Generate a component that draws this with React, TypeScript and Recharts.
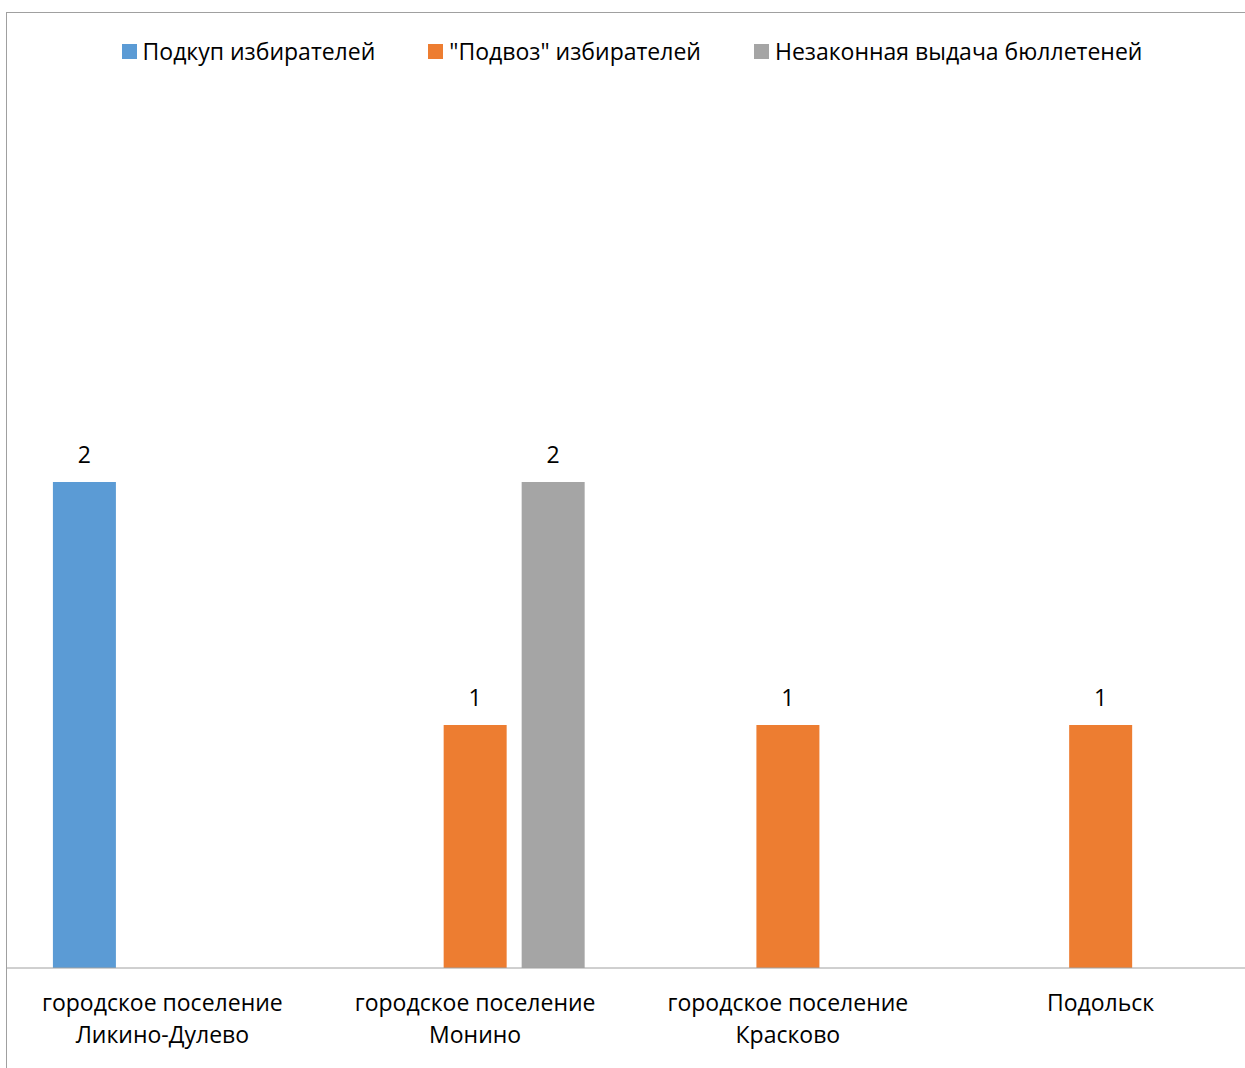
import React from "react";
import { BarChart, Bar, XAxis, YAxis, Legend, LabelList } from "recharts";

const categories: string[] = [
  "городское поселение\nЛикино-Дулево",
  "городское поселение\nМонино",
  "городское поселение\nКрасково",
  "Подольск",
];
const bribery: (number | null)[] = [2, null, null, null];
const transport: (number | null)[] = [null, 1, 1, 1];
const ballots: (number | null)[] = [null, 2, null, null];

const seriesNames = ["Подкуп избирателей", "\"Подвоз\" избирателей", "Незаконная выдача бюллетеней"];
const colors = ["#5B9BD5", "#ED7D31", "#A5A5A5"];

const data = categories.map((c, i) => ({
  name: c,
  bribery: bribery[i],
  transport: transport[i],
  ballots: ballots[i],
}));

const FONT = "'Open Sans', 'DejaVu Sans', sans-serif";
const FS = 23;

const Tick = (props: any) => {
  const { x, y, payload } = props;
  const lines = String(payload.value).split("\n");
  return (
    <text x={x} y={y} textAnchor="middle" fill="#000" fontSize={FS} fontFamily={FONT}>
      {lines.map((l: string, i: number) => (
        <tspan key={i} x={x} dy={i === 0 ? 35 : 32}>
          {l}
        </tspan>
      ))}
    </text>
  );
};

const LegendContent = () => (
  <div
    style={{
      display: "flex",
      justifyContent: "center",
      alignItems: "center",
      fontFamily: FONT,
      fontSize: FS,
      color: "#000",
      width: "100%",
    }}
  >
    {seriesNames.map((n, i) => (
      <div key={i} style={{ display: "flex", alignItems: "center", marginLeft: i === 0 ? 0 : 53 }}>
        <span style={{ display: "inline-block", width: 15, height: 15, background: colors[i], marginRight: 6 }} />
        <span style={{ whiteSpace: "pre" }}>{n}</span>
      </div>
    ))}
  </div>
);

const labelStyle = { fill: "#000", fontSize: FS, fontFamily: FONT };

export default function App() {
  return (
    <div style={{ position: "absolute", left: 0, top: 0, width: 1245, height: 1068, overflow: "hidden", background: "#fff" }}>
      <div
        style={{
          position: "absolute",
          left: 6,
          top: 12,
          width: 1300,
          height: 1100,
          borderTop: "1px solid #a0a0a0",
          borderLeft: "1px solid #a0a0a0",
        }}
      />
      <div style={{ position: "absolute", left: 0, top: 0 }}>
        <BarChart
          width={1257}
          height={1068}
          data={data}
          margin={{ top: 207, right: 0, bottom: 0, left: 6 }}
          barCategoryGap="15%"
          barGap={15}
        >
          <XAxis
            dataKey="name"
            axisLine={{ stroke: "#a0a0a0", strokeWidth: 1 }}
            tickLine={false}
            height={100}
            interval={0}
            tick={<Tick />}
          />
          <YAxis hide domain={[0, 3]} />
          <Legend
            verticalAlign="top"
            content={<LegendContent />}
            wrapperStyle={{ position: "absolute", top: 35, left: 0, width: 1264 }}
          />
          <Bar dataKey="bribery" fill={colors[0]} isAnimationActive={false}>
            <LabelList dataKey="bribery" position="top" offset={19} style={labelStyle} />
          </Bar>
          <Bar dataKey="transport" fill={colors[1]} isAnimationActive={false}>
            <LabelList dataKey="transport" position="top" offset={19} style={labelStyle} />
          </Bar>
          <Bar dataKey="ballots" fill={colors[2]} isAnimationActive={false}>
            <LabelList dataKey="ballots" position="top" offset={19} style={labelStyle} />
          </Bar>
        </BarChart>
      </div>
    </div>
  );
}
